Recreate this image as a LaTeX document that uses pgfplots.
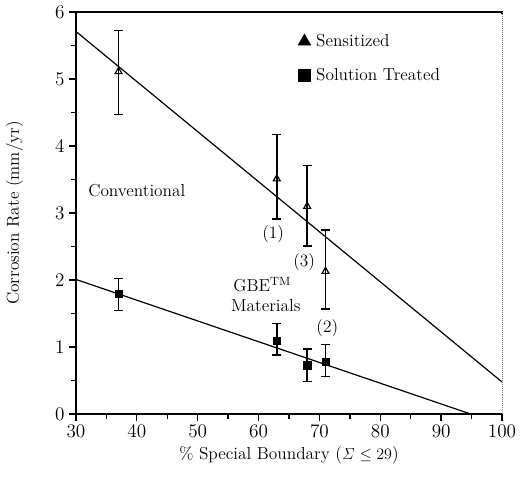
\documentclass[border=0pt]{standalone}
\usepackage{pgfplots}
\pgfplotsset{compat=1.18}

\begin{document}
\begin{tikzpicture}
\begin{axis}[
  width=320pt, height=302pt, scale only axis,
  xmin=30, xmax=100, ymin=0, ymax=6,
  xtick={30,40,...,100}, ytick={0,1,...,6},
  minor x tick num=1, minor y tick num=1,
  axis lines=box, xtick pos=bottom, ytick pos=left,
  axis line style={line width=1pt},
  tick align=outside,
  major tick length=5pt, minor tick length=3.5pt,
  tick style={black, line width=1pt},
  tick label style={font=\fontsize{14}{16}\selectfont},
  label style={font=\fontsize{13}{15}\selectfont},
  xlabel={\% Special Boundary ($\mathit{\Sigma} \leq 29$)},
  ylabel={Corrosion Rate (mm/yr)},
  xlabel style={at={(axis description cs:0.5,-0.102)}, anchor=center},
  ylabel style={at={(axis description cs:-0.144,0.5)}, anchor=center},
  clip=false,
  legend style={draw=none, fill=none, at={(axis cs:65.8,5.75)}, anchor=north west,
    font=\fontsize{13}{15}\selectfont, row sep=11pt, legend cell align=left,
    nodes={inner xsep=4pt}},
]
% faint right frame as in the scan
\draw[white, line width=1.6pt] (rel axis cs:1,0.004) -- (rel axis cs:1,0.996);
\draw[densely dotted, gray, line width=0.5pt] (rel axis cs:1,0) -- (rel axis cs:1,1);
% room around the axis
\path (rel axis cs:0,0) ++(-57pt,-47pt);
\path (rel axis cs:1,1) ++(19.5pt,9pt);

\addlegendimage{only marks, mark=triangle*, mark size=5.5pt, black}
\addlegendentry{Sensitized}
\addlegendimage{only marks, mark=square*, mark size=4.6pt, black}
\addlegendentry{Solution Treated}

% fitted lines
\addplot[black, line width=0.9pt, forget plot] coordinates {(30,5.71) (100,0.48)};
\addplot[black, line width=0.9pt, forget plot] coordinates {(30,2.01) (94.9,0)};

% sensitized
\addplot[black, only marks, mark=triangle, mark size=3pt, mark options={line width=0.9pt}, forget plot,
  error bars/.cd, y dir=both, y explicit,
  error bar style={line width=1.1pt}, error mark options={rotate=90, mark size=3.5pt, line width=1.1pt}]
  coordinates {
  (37,5.11) += (0,0.61) -= (0,0.64)
  (63,3.51) += (0,0.66) -= (0,0.60)
  (68,3.10) += (0,0.61) -= (0,0.59)
  (71,2.13) += (0,0.62) -= (0,0.56)
};

% solution treated
\addplot[black, only marks, mark=square*, mark size=2.7pt, forget plot,
  error bars/.cd, y dir=both, y explicit,
  error bar style={line width=1.1pt}, error mark options={rotate=90, mark size=3.5pt, line width=1.1pt}]
  coordinates {
  (37,1.80) += (0,0.22) -= (0,0.25)
  (63,1.09) += (0,0.26) -= (0,0.21)
  (68,0.73) += (0,0.24) -= (0,0.24)
  (71,0.78) += (0,0.26) -= (0,0.22)
};

\begin{scope}[every node/.style={font=\fontsize{13}{15}\selectfont}]
\node at (axis cs:40,3.34) {Conventional};
\node at (axis cs:62.4,2.69) {(1)};
\node at (axis cs:67.5,2.27) {(3)};
\node at (axis cs:71.3,1.28) {(2)};
\node at (axis cs:60.6,1.93) {GBE$^{\mathrm{TM}}$};
\node at (axis cs:61.2,1.62) {Materials};
\end{scope}
\end{axis}
\end{tikzpicture}
\end{document}
